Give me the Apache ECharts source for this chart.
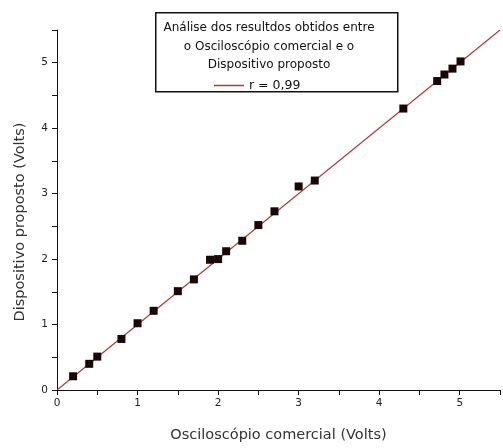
<!DOCTYPE html>
<html>
<head>
<meta charset="utf-8">
<script src="https://cdn.jsdelivr.net/npm/echarts@6/dist/echarts.min.js"></script>
<style>html,body{margin:0;padding:0;background:#fff;}#c{width:503px;height:448px;}</style>
</head>
<body>
<div id="c"></div>
<script>
var xValues = [0.2, 0.4, 0.5, 0.8, 1.0, 1.2, 1.5, 1.7, 1.9, 2.0, 2.1, 2.3, 2.5, 2.7, 3.0, 3.2, 4.3, 4.72, 4.81, 4.91, 5.01];
var yValues = [0.21, 0.40, 0.51, 0.78, 1.02, 1.21, 1.51, 1.69, 1.99, 2.0, 2.12, 2.28, 2.52, 2.73, 3.11, 3.2, 4.30, 4.72, 4.82, 4.91, 5.02];
var fitX = [0, 5.5];
var fitY = [0, 5.5];
var titleLines = ['Análise dos resultdos obtidos entre', 'o Osciloscópio comercial e o', 'Dispositivo proposto'];
var fitName = 'r = 0,99';
var xName = 'Osciloscópio comercial (Volts)';
var yName = 'Dispositivo proposto (Volts)';

var pts = xValues.map(function (x, i) { return [x, yValues[i]]; });
var fit = fitX.map(function (x, i) { return [x, fitY[i]]; });
var FONT = 'DejaVu Sans';
function fmt(v) { return Math.abs(v - Math.round(v)) < 1e-9 ? String(Math.round(v)) : ''; }

var chart = echarts.init(document.getElementById('c'), null, {renderer: 'canvas'});
chart.setOption({
  backgroundColor: '#fff',
  animation: false,
  grid: {left: 57, right: 1, top: 30, bottom: 55},
  graphic: [{
    type: 'rect', left: 155, top: 12, z: 0,
    shape: {width: 242, height: 79},
    style: {fill: '#fff', stroke: '#111', lineWidth: 1.5}
  }],
  title: {
    text: titleLines.join('\n'),
    left: 264, top: 14, textAlign: 'center',
    textStyle: {fontFamily: FONT, fontSize: 12, fontWeight: 'normal', color: '#111', lineHeight: 18.5}
  },
  legend: {
    left: 209, top: 74, icon: 'rect', itemWidth: 30, itemHeight: 1.5, itemGap: 4,
    data: [fitName],
    textStyle: {fontFamily: FONT, fontSize: 12.5, color: '#111', padding: [0, 0, 0, 0]}
  },
  xAxis: {
    type: 'value', min: 0, max: 5.5, interval: 0.5,
    name: xName, nameLocation: 'middle', nameGap: 38,
    nameTextStyle: {fontFamily: FONT, fontSize: 14.5, color: '#333'},
    axisLine: {onZero: false, lineStyle: {color: '#111', width: 1}},
    axisTick: {show: true, length: 5, lineStyle: {color: '#111'}},
    axisLabel: {formatter: fmt, fontFamily: FONT, fontSize: 10.5, color: '#222', margin: 8},
    splitLine: {show: false}
  },
  yAxis: {
    type: 'value', min: 0, max: 5.5, interval: 0.5,
    name: yName, nameLocation: 'middle', nameGap: 29,
    nameTextStyle: {fontFamily: FONT, fontSize: 14.5, color: '#333', padding: [0, 24, 0, 0]},
    axisLine: {show: true, onZero: false, lineStyle: {color: '#111', width: 1}},
    axisTick: {show: true, length: 5, lineStyle: {color: '#111'}},
    axisLabel: {formatter: fmt, fontFamily: FONT, fontSize: 10.5, color: '#222', margin: 9},
    splitLine: {show: false}
  },
  series: [{
    name: fitName, type: 'line', data: fit, showSymbol: false, symbol: 'none',
    lineStyle: {color: '#a83c3c', width: 1.2}, itemStyle: {color: '#a83c3c'}, z: 2
  }, {
    name: 'dados', type: 'scatter', data: pts, symbol: 'rect', symbolSize: 8,
    itemStyle: {color: '#1a0606', opacity: 1}, z: 3
  }]
});
</script>
</body>
</html>
